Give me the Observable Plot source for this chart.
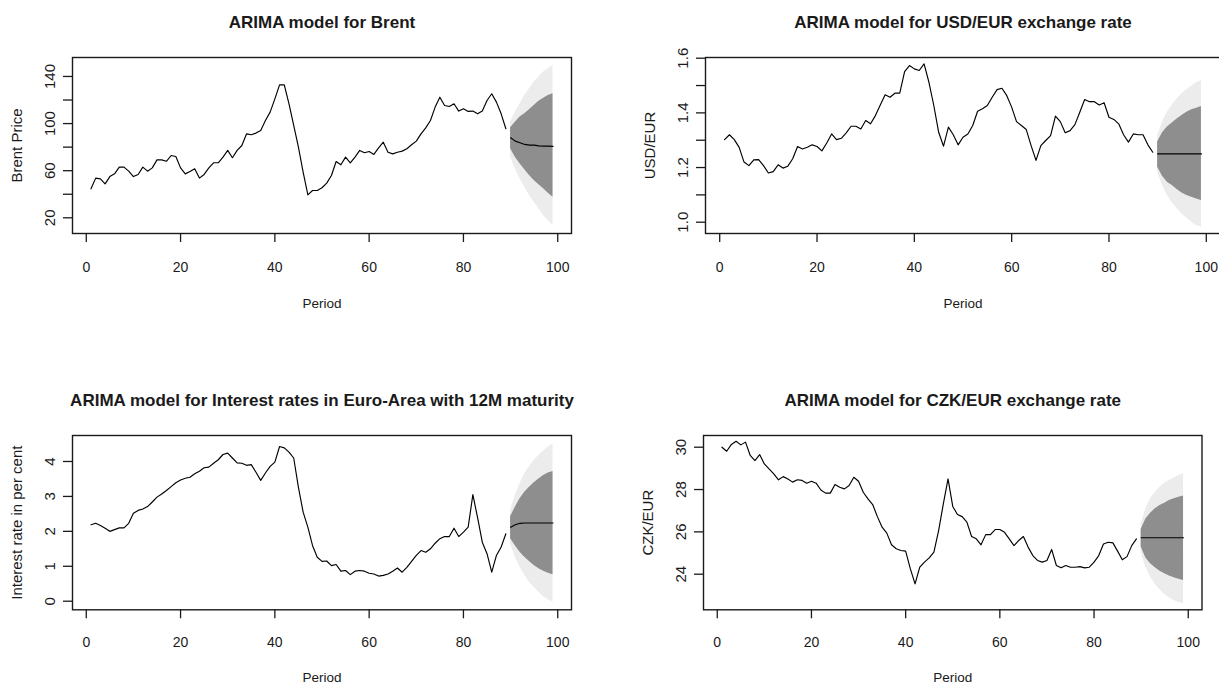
<!DOCTYPE html>
<html><head><meta charset="utf-8">
<script src="https://cdn.jsdelivr.net/npm/d3@7"></script>
<script src="https://cdn.jsdelivr.net/npm/@observablehq/plot@0.6"></script>
<style>
html,body{margin:0;padding:0;background:#fff;width:1219px;height:686px;overflow:hidden;}
.panel{position:absolute;overflow:visible;}
.panel svg{max-width:none !important;display:block;}
</style></head><body>
<div id="p1" class="panel" style="left:0;top:0;width:609px"></div>
<div id="p2" class="panel" style="left:609px;top:0;width:651px"></div>
<div id="p3" class="panel" style="left:0;top:343px;width:609px"></div>
<div id="p4" class="panel" style="left:609px;top:343px;width:610px"></div>
<script>
const periods = d3.range(1, 90);
const fcPeriods = d3.range(90, 100);
const xTicks = [0, 20, 40, 60, 80, 100];

const titles = [
  "ARIMA model for Brent",
  "ARIMA model for USD/EUR exchange rate",
  "ARIMA model for Interest rates in Euro-Area with 12M maturity",
  "ARIMA model for CZK/EUR exchange rate"
];
const yTitles = ["Brent Price", "USD/EUR", "Interest rate in per cent", "CZK/EUR"];
const xTitle = "Period";

// Brent
const brent = [44.6,53.7,53,48.8,55,57.3,63,63,59.6,55,
  56.8,63,59.6,62.4,69.2,69.2,68,72.9,72,62.4,
  57.3,59.3,61.6,53.7,56.8,62.4,66.7,66.7,71.5,77.2,
  71,77.2,81.4,91.3,90.5,91.9,94.1,102.6,109.7,121,
  132.9,132.9,116.8,98.4,80,58.8,39.5,43.2,43.2,45.5,
  49.4,55.9,67.8,65,71.5,66.7,71.5,77.2,75.2,76.3,
  73.8,79.4,84.2,75.7,74.3,75.7,76.6,78.6,82,85.1,
  91.3,96.4,102.6,114,122.4,115.4,114.5,116.8,110.6,112.5,
  110.3,110.6,108.3,110.6,119.6,125.3,118.2,108.3,95.6];
const brentMean = [87.9,85.1,83.7,82.3,81.7,81.7,81.1,80.8,80.8,80.6];
const brentLo80 = [78.6,71.5,65.8,60.7,55.9,51.7,48,44.6,40.9,37.5];
const brentHi80 = [96.4,101.2,105.5,108.3,111.7,115.4,119,121.6,123.9,125.3];
const brentLo95 = [71.5,61.6,53.1,46,38.9,33.3,27.6,22,17.7,13.5];
const brentHi95 = [101.2,109.7,116.8,123.9,129.5,135.2,139.4,143.7,146.5,149.3];
const brentTicks = [20, 40, 60, 80, 100, 120, 140];
const brentTickLabels = [20, 60, 100, 140];

// USD/EUR
const usd = [1.302,1.32,1.302,1.274,1.22,1.207,1.228,1.229,1.207,1.18,
  1.185,1.21,1.198,1.205,1.232,1.277,1.268,1.274,1.283,1.277,
  1.261,1.29,1.323,1.302,1.307,1.327,1.351,1.351,1.341,1.372,
  1.36,1.39,1.429,1.466,1.457,1.472,1.472,1.551,1.573,1.561,
  1.555,1.579,1.512,1.427,1.329,1.278,1.348,1.32,1.283,1.311,
  1.323,1.354,1.406,1.415,1.427,1.457,1.485,1.49,1.463,1.421,
  1.368,1.354,1.339,1.28,1.226,1.28,1.299,1.317,1.388,1.368,
  1.327,1.335,1.357,1.402,1.449,1.441,1.441,1.429,1.437,1.384,
  1.376,1.36,1.32,1.293,1.323,1.32,1.32,1.283,1.256];
const usdMean = [1.25,1.25,1.25,1.25,1.25,1.25,1.25,1.25,1.25,1.25];
const usdLo80 = [1.201,1.168,1.146,1.134,1.12,1.107,1.098,1.091,1.085,1.079];
const usdHi80 = [1.293,1.327,1.348,1.363,1.378,1.39,1.402,1.411,1.417,1.423];
const usdLo95 = [1.183,1.134,1.098,1.071,1.049,1.03,1.015,1.0,0.988,0.982];
const usdHi95 = [1.317,1.366,1.402,1.429,1.451,1.47,1.485,1.498,1.51,1.518];
const usdTicks = [1.0, 1.1, 1.2, 1.3, 1.4, 1.5, 1.6];
const usdTickLabels = [1.0, 1.2, 1.4, 1.6];

// Interest rate
const rate = [2.19,2.23,2.17,2.09,2.0,2.05,2.1,2.1,2.23,2.52,
  2.6,2.64,2.71,2.84,2.98,3.07,3.17,3.28,3.39,3.47,
  3.52,3.55,3.65,3.72,3.82,3.84,3.95,4.05,4.2,4.24,
  4.1,3.96,3.95,3.89,3.91,3.69,3.46,3.67,3.86,3.98,
  4.43,4.39,4.27,4.1,3.26,2.55,2.12,1.59,1.26,1.14,
  1.15,1.02,1.05,0.86,0.88,0.76,0.86,0.88,0.86,0.8,
  0.78,0.72,0.74,0.78,0.86,0.95,0.83,0.97,1.14,1.31,
  1.45,1.4,1.5,1.66,1.79,1.85,1.85,2.09,1.85,1.98,
  2.12,3.05,2.39,1.69,1.36,0.83,1.31,1.55,1.93];
const rateMean = [2.12,2.19,2.23,2.24,2.24,2.24,2.24,2.24,2.24,2.24];
const rateLo80 = [1.79,1.59,1.4,1.26,1.14,1.02,0.93,0.86,0.8,0.76];
const rateHi80 = [2.42,2.69,2.93,3.12,3.26,3.39,3.5,3.6,3.67,3.71];
const rateLo95 = [1.64,1.26,0.97,0.74,0.54,0.4,0.26,0.13,0.04,-0.03];
const rateHi95 = [2.6,3.03,3.36,3.65,3.86,4.03,4.17,4.3,4.41,4.51];
const rateTicks = [0, 1, 2, 3, 4];
const rateTickLabels = [0, 1, 2, 3, 4];

// CZK/EUR
const czk = [30.0,29.81,30.13,30.28,30.11,30.24,29.61,29.37,29.65,29.21,
  28.98,28.74,28.46,28.61,28.5,28.35,28.46,28.43,28.3,28.39,
  28.3,27.98,27.83,27.83,28.24,28.11,28.03,28.19,28.58,28.39,
  27.87,27.56,27.29,26.72,26.22,25.94,25.39,25.2,25.12,25.09,
  24.25,23.54,24.33,24.57,24.77,25.04,26.06,27.32,28.5,27.2,
  26.82,26.72,26.46,25.78,25.67,25.39,25.87,25.87,26.11,26.11,
  25.98,25.67,25.35,25.59,25.78,25.28,24.88,24.65,24.57,24.65,
  25.17,24.41,24.3,24.41,24.33,24.33,24.36,24.3,24.33,24.57,
  24.88,25.43,25.51,25.48,25.09,24.68,24.83,25.35,25.67];
const czkMean = [25.72,25.72,25.72,25.72,25.72,25.72,25.72,25.72,25.72,25.72];
const czkLo80 = [25.28,24.77,24.49,24.3,24.14,24.02,23.91,23.83,23.76,23.7];
const czkHi80 = [26.11,26.61,26.88,27.09,27.24,27.35,27.48,27.56,27.64,27.69];
const czkLo95 = [24.99,24.33,23.86,23.51,23.26,23.04,22.88,22.76,22.66,22.6];
const czkHi95 = [26.38,27.09,27.56,27.87,28.11,28.3,28.43,28.55,28.66,28.74];
const czkTicks = [24, 26, 28, 30];
const czkTickLabels = [24, 26, 28, 30];

const FONT = '"Liberation Sans", Arial, Helvetica, sans-serif';
const INK = "#1a1a1a";

function panel(el, o) {
  const hist = periods.map((p, i) => ({p, v: o.hist[i]}));
  const fc = fcPeriods.map((p, i) => ({p, m: o.mean[i], lo80: o.lo80[i], hi80: o.hi80[i], lo95: o.lo95[i], hi95: o.hi95[i]}));
  const chart = Plot.plot({
    width: o.width, height: o.height,
    marginLeft: o.ml, marginRight: o.mr, marginTop: o.mt, marginBottom: o.mb,
    style: {fontFamily: FONT, fontSize: "14px", color: INK, background: "transparent", maxWidth: "none"},
    x: {domain: [-2.92, 102.92]},
    y: {domain: o.yDomain},
    marks: [
      Plot.areaY(fc, {x: "p", y1: "lo95", y2: "hi95", fill: "#ececec"}),
      Plot.areaY(fc, {x: "p", y1: "lo80", y2: "hi80", fill: "#8e8e8e"}),
      Plot.lineY(hist, {x: "p", y: "v", stroke: "#000", strokeWidth: 1.15}),
      Plot.lineY(fc, {x: "p", y: "m", stroke: "#000", strokeWidth: 1.15}),
      Plot.frame({stroke: INK, strokeWidth: 1.4}),
      Plot.axisX({ticks: xTicks, tickSize: 9, tickFormat: () => "", label: null, strokeWidth: 1.3}),
      Plot.axisY({ticks: o.yTicks, tickSize: 9, tickFormat: () => "", label: null, strokeWidth: 1.3}),
      Plot.text(xTicks, {x: d => d, text: d => String(d), frameAnchor: "bottom", dy: o.xLabDy, lineAnchor: "bottom", fill: INK, fontSize: 14}),
      Plot.text(o.yTickLabels, {y: d => d, text: d => o.fmt(d), frameAnchor: "left", dx: -22, rotate: -90, textAnchor: "middle", lineAnchor: "middle", fill: INK, fontSize: 15}),
      Plot.text([o.yTitle], {text: d => d, frameAnchor: "left", dx: -55, rotate: -90, textAnchor: "middle", lineAnchor: "middle", fill: INK, fontSize: 15}),
      Plot.text([xTitle], {text: d => d, frameAnchor: "bottom", dy: o.xTitleDy, lineAnchor: "bottom", fill: INK, fontSize: 13.5}),
      Plot.text([o.title], {text: d => d, frameAnchor: "top", dy: -30, lineAnchor: "bottom", fontWeight: "bold", fontSize: 17, fill: INK})
    ]
  });
  document.getElementById(el).appendChild(chart);
}

const intFmt = d => String(d);
const decFmt = d => d.toFixed(1);

panel("p1", {hist: brent, mean: brentMean, lo80: brentLo80, hi80: brentHi80, lo95: brentLo95, hi95: brentHi95,
  yDomain: [6.67, 156.1], yTicks: brentTicks, yTickLabels: brentTickLabels, fmt: intFmt,
  title: titles[0], yTitle: yTitles[0],
  width: 609, height: 343, ml: 72, mr: 38, mt: 57, mb: 110, xLabDy: 38, xTitleDy: 74});
panel("p2", {hist: usd, mean: usdMean, lo80: usdLo80, hi80: usdHi80, lo95: usdLo95, hi95: usdHi95,
  yDomain: [0.9587, 1.6026], yTicks: usdTicks, yTickLabels: usdTickLabels, fmt: decFmt,
  title: titles[1], yTitle: yTitles[1],
  width: 651, height: 343, ml: 96, mr: 40, mt: 57, mb: 110, xLabDy: 38, xTitleDy: 74});
panel("p3", {hist: rate, mean: rateMean, lo80: rateLo80, hi80: rateHi80, lo95: rateLo95, hi95: rateHi95,
  yDomain: [-0.246, 4.744], yTicks: rateTicks, yTickLabels: rateTickLabels, fmt: intFmt,
  title: titles[2], yTitle: yTitles[2],
  width: 609, height: 343, ml: 72, mr: 38, mt: 92, mb: 76.7, xLabDy: 37.5, xTitleDy: 72.5});
panel("p4", {hist: czk, mean: czkMean, lo80: czkLo80, hi80: czkHi80, lo95: czkLo95, hi95: czkHi95,
  yDomain: [22.318, 30.553], yTicks: czkTicks, yTickLabels: czkTickLabels, fmt: intFmt,
  title: titles[3], yTitle: yTitles[3],
  width: 610, height: 343, ml: 94, mr: 17.5, mt: 92, mb: 76.7, xLabDy: 37.5, xTitleDy: 72.5});
</script>
</body></html>
